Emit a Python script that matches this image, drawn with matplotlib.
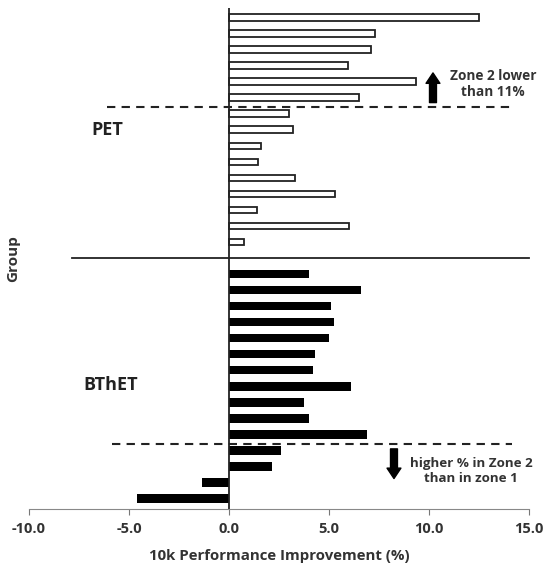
import matplotlib.pyplot as plt
import numpy as np

plt.rcParams['font.family'] = ['Open Sans', 'DejaVu Sans']
plt.rcParams['font.weight'] = 'bold'
plt.rcParams['axes.labelweight'] = 'bold'

# 10k performance improvement (%) per athlete, top to bottom
pet_values = [12.5, 7.3, 7.1, 5.95, 9.35, 6.5, 3.0, 3.2, 1.6, 1.45, 3.3, 5.3, 1.4, 6.0, 0.75]
bthet_values = [4.0, 6.6, 5.1, 5.25, 5.0, 4.3, 4.2, 6.1, 3.75, 4.0, 6.9, 2.6, 2.15, -1.35, -4.6]
group_names = ['PET', 'BThET']
x_ticks = [-10.0, -5.0, 0.0, 5.0, 10.0, 15.0]

n_pet = len(pet_values)
pet_pos = np.arange(n_pet)
bthet_pos = np.arange(len(bthet_values)) + n_pet + 1
split_pos = n_pet

fig = plt.figure(figsize=(5.45, 5.63), dpi=100)
ax = fig.add_axes([0.0532, 0.0959, 0.9174, 0.8899])

ax.barh(pet_pos, pet_values, height=0.42, color='white', edgecolor='#222222', linewidth=1.3)
ax.barh(bthet_pos, bthet_values, height=0.52, color='black')

ax.set_xlim(-10, 15)
ax.set_ylim(bthet_pos[-1] + 0.65, -0.6)

# group divider and zone cut-offs
ax.plot([-7.85, 15], [split_pos, split_pos], color='#222222', lw=1.3, clip_on=False)
ax.plot([-6.1, 14.25], [5.55, 5.55], color='#222222', lw=1.5, ls=(0, (4, 3)))
ax.plot([-5.85, 14.15], [26.6, 26.6], color='#222222', lw=1.5, ls=(0, (4, 3)))

ax.axvline(0, color='#222222', lw=1.3)

arrow_props = dict(arrowstyle='simple,head_width=1.0,head_length=0.75,tail_width=0.5',
                   color='black', mutation_scale=10, shrinkA=0, shrinkB=0)
ax.annotate('', xy=(10.2, 3.45), xytext=(10.2, 5.3), arrowprops=arrow_props)
ax.annotate('', xy=(8.25, 28.75), xytext=(8.25, 26.9), arrowprops=arrow_props)
ax.text(13.2, 4.15, 'Zone 2 lower\nthan 11%', ha='center', va='center',
        fontsize=9.8, color='#333333', linespacing=1.2)
ax.text(12.1, 28.3, 'higher % in Zone 2\nthan in zone 1', ha='center', va='center',
        fontsize=9.6, color='#333333', linespacing=1.2)

ax.text(-6.1, 7.0, group_names[0], ha='center', va='center', fontsize=13,
        fontweight='bold', color='#222222')
ax.text(-5.9, 22.9, group_names[1], ha='center', va='center', fontsize=13,
        fontweight='bold', color='#222222')

ax.set_xticks(x_ticks)
ax.set_xticklabels([f'{t:.1f}' for t in x_ticks], fontsize=10.5, fontweight='bold',
                   color='#333333')
ax.tick_params(axis='x', direction='out', length=4, color='#777777', pad=5)
ax.set_yticks([])
ax.set_xlabel('10k Performance Improvement (%)', fontsize=10.8, color='#333333', labelpad=10)
ax.set_ylabel('Group', fontsize=11, color='#333333')
ax.yaxis.set_label_coords(-0.018, 0.5)

for side in ['top', 'right', 'left']:
    ax.spines[side].set_visible(False)
ax.spines['bottom'].set_color('#888888')

fig.savefig('out.png', dpi=100)
